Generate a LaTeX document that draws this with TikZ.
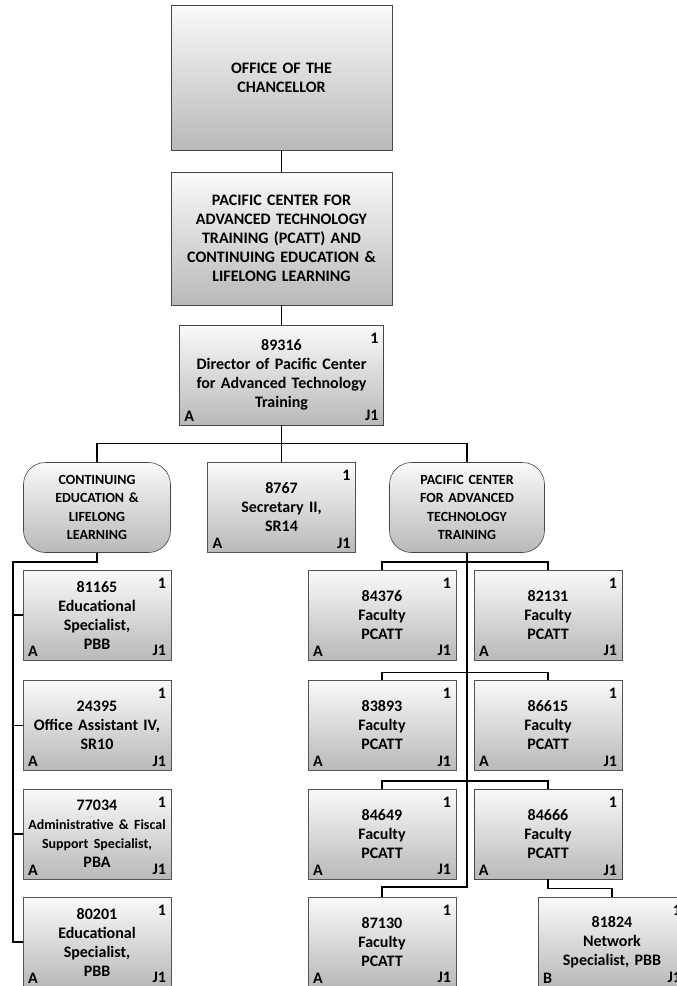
\documentclass[tikz,border=0pt]{standalone}
\usepackage{fontspec}
\setmainfont{Carlito}
\usetikzlibrary{positioning}
\newcommand{\posbox}[5][]{%
  \node[posn,#1] (#2) at (#3) {#4};
  \node[tag,inner ysep=8pt,anchor=north east] (#2-n) at (#2.north east) {1};
  \node[tag,anchor=south west] (#2-a) at (#2.south west) {#5};
  \node[tag,anchor=south east] (#2-j) at (#2.south east) {J1};}
\newcommand{\tightline}{\fontsize{14pt}{19pt}\selectfont}

\begin{document}
\begin{tikzpicture}[x=1pt,y=-1pt,font=\fontsize{16pt}{19pt}\selectfont\bfseries,
  shadebox/.style={draw=gray!65!black,top color=gray!4,bottom color=gray!55,inner sep=0pt,align=center},
  frame/.style={line width=0.6pt,draw=gray!55!black,append after command={\pgfextra{\draw[gray!55!black,line width=0.6pt,#1]
      ([xshift=2.5pt,yshift=-2.5pt]\tikzlastnode.north west) rectangle ([xshift=-2.5pt,yshift=2.5pt]\tikzlastnode.south east);}}},
  frame/.default={sharp corners},
  posn/.style={shadebox,minimum width=148pt,minimum height=90pt,text width=146pt},
  unitbox/.style={shadebox,frame,minimum width=221pt,text width=217pt},
  roundbox/.style={shadebox,frame={rounded corners=19pt},rounded corners=22pt,minimum width=147pt,minimum height=90pt,text width=130pt,font=\fontsize{14pt}{18.5pt}\selectfont\bfseries},
  tag/.style={inner xsep=5pt,inner ysep=4pt},
  link/.style={line width=1.4pt}]
\useasboundingbox (0,0) rectangle (677,986);
\node[unitbox,minimum height=145pt] (chan) at (281.5,77.5) {OFFICE OF THE\\CHANCELLOR};
\node[unitbox,minimum height=133pt] (unit) at (281.5,238.5) {PACIFIC CENTER FOR\\ADVANCED TECHNOLOGY\\TRAINING (PCATT) AND\\CONTINUING EDUCATION \&\\LIFELONG LEARNING};
\posbox[frame,minimum width=204pt,minimum height=100pt,text width=200pt]{dir}{281.5,375}{89316\\Director of Pacific Center\\for Advanced Technology\\Training}{A}
\node[roundbox] (ce) at (97,507.5) {CONTINUING\\EDUCATION \&\\LIFELONG\\LEARNING};
\posbox{sec}{281.5,507.5}{8767\\Secretary II,\\SR14}{A}
\node[roundbox,minimum width=155pt] (pca) at (467,507.5) {PACIFIC CENTER\\FOR ADVANCED\\TECHNOLOGY\\TRAINING};
\posbox{e1}{97,615}{81165\\Educational\\Specialist,\\PBB}{A}
\posbox{e2}{97,725.5}{24395\\Office Assistant IV,\\SR10}{A}
\posbox{e3}{97,834}{77034\\{\tightline Administrative \& Fiscal}\\{\tightline Support Specialist,}\\PBA}{A}
\posbox{e4}{97,942}{80201\\Educational\\Specialist,\\PBB}{A}
\posbox{f1}{382,615}{84376\\Faculty\\PCATT}{A}
\posbox{f2}{548,615}{82131\\Faculty\\PCATT}{A}
\posbox{f3}{382,725.5}{83893\\Faculty\\PCATT}{A}
\posbox{f4}{548,725.5}{86615\\Faculty\\PCATT}{A}
\posbox{f5}{382,834}{84649\\Faculty\\PCATT}{A}
\posbox[frame]{f6}{548,834}{84666\\Faculty\\PCATT}{A}
\posbox{f7}{382,942}{87130\\Faculty\\PCATT}{A}
\posbox{net}{612,942}{81824\\Network\\Specialist, PBB}{B}
\coordinate (cebus) at (13,562);
\draw[link] (chan) -- (unit);
\draw[link] (unit) -- (dir);
\draw[link] (dir) -- (sec);
\draw[link] (ce.north) -- ++(0,-19) -| (pca.north);
\draw[link] (ce.south) |- (cebus) -- (cebus |- e4.west) -- (e4.west);
\foreach \n in {e1,e2,e3}
  \draw[link] (cebus |- \n.west) -- (\n.west);
\draw[link] (pca.south) -- ++(0,334) -| (f7.north);
\draw[link] (f1.north) -- ++(0,-8) -| (f2.north);
\draw[link] (f3.north) -- ++(0,-8) -| (f4.north);
\draw[link] (f5.north) -- ++(0,-8) -| (f6.north);
\draw[link] (f6.south) -- ++(0,9) -| (net.north);
\end{tikzpicture}
\end{document}
